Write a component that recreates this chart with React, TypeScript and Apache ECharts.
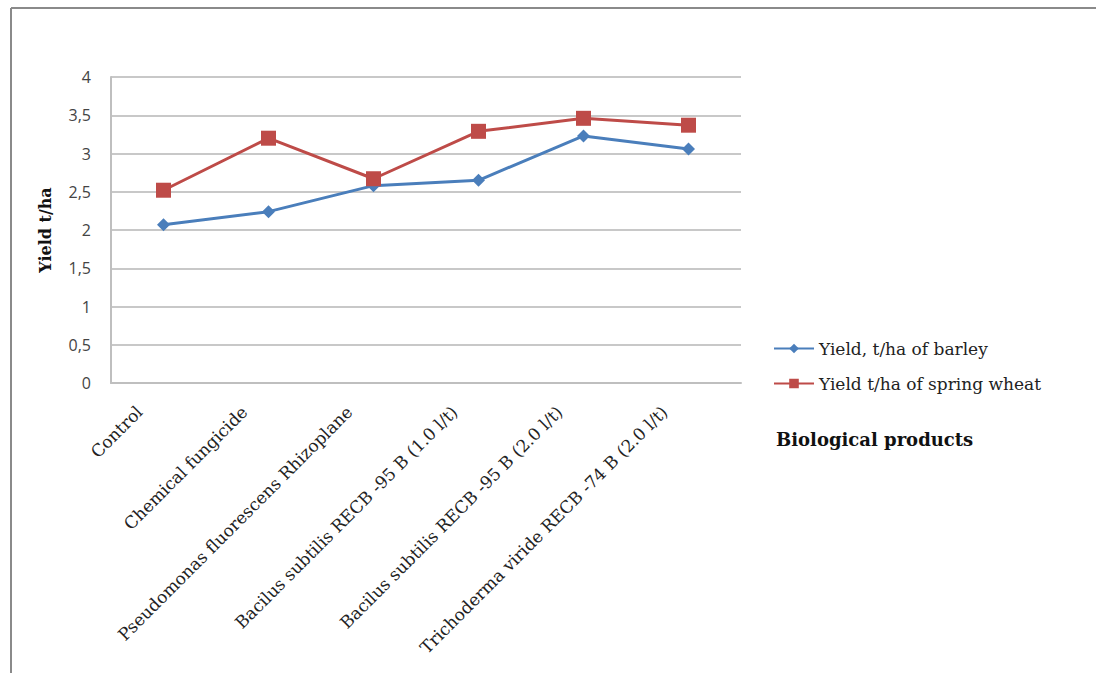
import React, { useEffect, useRef } from "react";
import * as echarts from "echarts";

const categories = [
  "Control",
  "Chemical fungicide",
  "Pseudomonas fluorescens Rhizoplane",
  "Bacilus subtilis RECB -95 B (1.0 l/t)",
  "Bacilus subtilis RECB -95 B (2.0 l/t)",
  "Trichoderma viride RECB -74 B (2.0 l/t)",
];
const barley = [2.07, 2.24, 2.58, 2.65, 3.23, 3.06];
const wheat = [2.52, 3.2, 2.67, 3.29, 3.46, 3.37];
const seriesNames = ["Yield, t/ha of barley", "Yield t/ha of spring wheat"];

export default function App() {
  const ref = useRef<HTMLDivElement>(null);
  useEffect(() => {
    document.body.style.margin = "0";
    const chart = echarts.init(ref.current!, null, { renderer: "svg" });
    const serif = "DejaVu Serif";
    chart.setOption({
      animation: false,
      backgroundColor: "#ffffff",
      grid: { left: 111, right: 355, top: 77, bottom: 290, containLabel: false },
      legend: {
        orient: "vertical",
        left: 768,
        top: 335,
        itemGap: 18,
        itemWidth: 40,
        itemHeight: 12,
        textStyle: { fontFamily: serif, fontSize: 17, color: "#222" },
        data: seriesNames,
      },
      xAxis: {
        type: "category",
        data: categories,
        boundaryGap: true,
        axisLine: { show: true, lineStyle: { color: "#bfbfbf", width: 2 } },
        axisTick: { show: false },
        axisLabel: {
          rotate: 45,
          interval: 0,
          margin: 2,
          padding: [0, 34, 0, 0],
          fontFamily: serif,
          fontSize: 17,
          color: "#222",
        },
      },
      yAxis: {
        type: "value",
        min: 0,
        max: 4,
        interval: 0.5,
        name: "Yield t/ha",
        nameLocation: "middle",
        nameGap: 58,
        nameTextStyle: { fontFamily: serif, fontSize: 16, fontWeight: "bold", color: "#111" },
        axisLine: { show: true, lineStyle: { color: "#bfbfbf", width: 2 } },
        axisTick: { show: false },
        axisLabel: {
          margin: 20,
          fontFamily: "Open Sans",
          fontSize: 16,
          color: "#444",
          formatter: (v: number) => String(v).replace(".", ","),
        },
        splitLine: { lineStyle: { color: "#c8c8c8", width: 2 } },
      },
      graphic: [
        { type: "line", shape: { x1: 11, y1: 8, x2: 11, y2: 673 }, style: { stroke: "#8a8a8a", lineWidth: 2 } },
        { type: "line", shape: { x1: 11, y1: 8, x2: 1096, y2: 8 }, style: { stroke: "#8a8a8a", lineWidth: 2 } },
        {
          type: "text",
          left: 776,
          top: 430,
          style: { text: "Biological products", fontFamily: serif, fontSize: 18, fontWeight: "bold", fill: "#111" },
        },
      ],
      series: [
        {
          name: seriesNames[0],
          type: "line",
          data: barley,
          symbol: "diamond",
          symbolSize: 13,
          lineStyle: { color: "#4a7ebb", width: 3 },
          itemStyle: { color: "#4a7ebb" },
        },
        {
          name: seriesNames[1],
          type: "line",
          data: wheat,
          symbol: "rect",
          symbolSize: 15,
          lineStyle: { color: "#be4b48", width: 3 },
          itemStyle: { color: "#be4b48" },
        },
      ],
    });
    return () => chart.dispose();
  }, []);
  return <div ref={ref} style={{ width: 1096, height: 673 }} />;
}
